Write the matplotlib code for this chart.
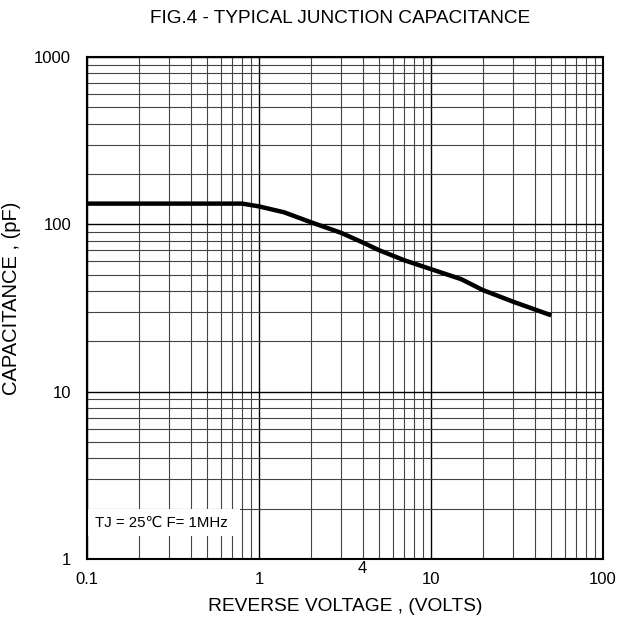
import numpy as np
import matplotlib
matplotlib.use("Agg")
import matplotlib.pyplot as plt
from matplotlib.ticker import LogLocator, FixedLocator, NullFormatter
import matplotlib.transforms as mtransforms

plt.rcParams['font.family'] = ['Liberation Sans', 'DejaVu Sans']

# curve
volts = [0.1, 0.8, 1.0, 1.4, 2, 3, 4, 5, 7, 10, 15, 20, 30, 50]
cap_pf = [133, 133, 128, 118, 103, 89, 78, 70, 61, 54, 47, 40.5, 34.5, 28.6]

x_ticks = [0.1, 1, 10, 100]
x_labels = ['0.1', '1', '10', '100']
y_ticks = [1, 10, 100, 1000]
y_labels = ['1', '10', '100', '1000']

fig = plt.figure(figsize=(6.27, 6.21), dpi=100)
ax = fig.add_axes([0.1388, 0.0998, 0.8229, 0.8084])
ax.set_xscale('log')
ax.set_yscale('log')
ax.set_xlim(0.1, 100)
ax.set_ylim(1, 1000)

ax.xaxis.set_major_locator(FixedLocator(x_ticks))
ax.yaxis.set_major_locator(FixedLocator(y_ticks))
ax.xaxis.set_minor_locator(LogLocator(base=10, subs=np.arange(2, 10)))
ax.yaxis.set_minor_locator(LogLocator(base=10, subs=np.arange(2, 10)))
ax.xaxis.set_minor_formatter(NullFormatter())
ax.yaxis.set_minor_formatter(NullFormatter())
ax.set_xticklabels(x_labels)
ax.set_yticklabels(y_labels)
ax.tick_params(which='both', length=0, labelsize=12)
ax.tick_params(axis='x', pad=9)
ax.tick_params(axis='y', pad=11.5)

ax.grid(which='major', color='black', linewidth=1.0)
ax.grid(which='minor', color='#444444', linewidth=0.8)
ax.set_axisbelow(True)

for s in ax.spines.values():
    s.set_linewidth(1.5)

# white label box over the grid
ax.fill_between([0.1, 0.775], 1.37, 1.98, color='white', zorder=1.5, linewidth=0)
ax.text(0.112, 1.64, 'TJ = 25\u2103 F= 1MHz', fontsize=10.8, va='center', ha='left', zorder=3)

ax.plot(volts, cap_pf, color='black', linewidth=3.2, zorder=4, solid_capstyle='butt')

trans = mtransforms.blended_transform_factory(ax.transData, ax.transAxes)
ax.text(4, -0.018, '4', transform=trans, fontsize=12, ha='center', va='center')

fig.text(0.542, 0.971, 'FIG.4 - TYPICAL JUNCTION CAPACITANCE', fontsize=13.7, ha='center', va='center')
ax.set_xlabel('REVERSE VOLTAGE , (VOLTS)', fontsize=13.8, labelpad=8)
fig.text(0.018, 0.519, 'CAPACITANCE , (pF)', fontsize=14.5, rotation=90,
         ha='center', va='center')

fig.savefig('out.png', dpi=100)
